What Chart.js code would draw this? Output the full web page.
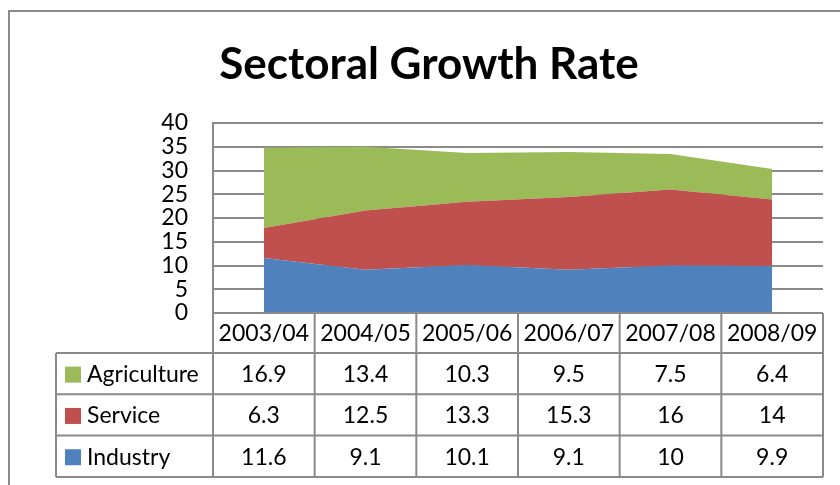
<!DOCTYPE html>
<html>
<head>
<meta charset="utf-8">
<title>Sectoral Growth Rate</title>
<script src="https://cdn.jsdelivr.net/npm/chart.js@4"></script>
<style>
  html, body { margin: 0; padding: 0; background: #fff; }
  #wrap { width: 840px; height: 485px; }
</style>
</head>
<body>
<div id="wrap"><canvas id="growthChart" width="840" height="485"></canvas></div>
<script>
// ===== data =====
const years = ["2003/04", "2004/05", "2005/06", "2006/07", "2007/08", "2008/09"];
const agriculture = [16.9, 13.4, 10.3, 9.5, 7.5, 6.4];
const service = [6.3, 12.5, 13.3, 15.3, 16, 14];
const industry = [11.6, 9.1, 10.1, 9.1, 10, 9.9];
const yTicks = [0, 5, 10, 15, 20, 25, 30, 35, 40];
const titleText = "Sectoral Growth Rate";

const GREEN = "#9bbb59";
const RED = "#c0504d";
const BLUE = "#4f81bd";
const GRID = "#8a8a8a";
const FONT = "Lato, 'Open Sans', sans-serif";

// table rows, top to bottom as in the picture
const tableRows = [
  { name: "Agriculture", color: GREEN, values: agriculture },
  { name: "Service", color: RED, values: service },
  { name: "Industry", color: BLUE, values: industry },
];

// ---- outer frame + title ----
const framePlugin = {
  id: "frame",
  beforeDraw(chart) {
    const c = chart.ctx;
    c.save();
    c.strokeStyle = "#8c8c8c";
    c.lineWidth = 2;
    c.beginPath();
    c.moveTo(9, 490);
    c.lineTo(9, 11);
    c.lineTo(845, 11);
    c.stroke();
    c.fillStyle = "#000";
    c.font = "bold 44px " + FONT;
    c.textAlign = "center";
    c.textBaseline = "alphabetic";
    c.fillText(titleText, 429, 79);
    c.restore();
  }
};

// ---- data table under the plot ----
const tablePlugin = {
  id: "dataTable",
  afterDraw(chart) {
    const c = chart.ctx;
    const x = chart.scales.x;
    const area = chart.chartArea;
    const colW = (area.right - area.left) / years.length;
    const top = area.bottom;
    const headH = 40;
    const rowH = 41.3;
    const legendLeft = 56;
    const bottom = top + headH + rowH * tableRows.length;

    c.save();
    c.strokeStyle = GRID;
    c.lineWidth = 2;
    c.beginPath();
    // horizontal lines
    c.moveTo(area.left, top); c.lineTo(area.right, top);
    for (let r = 0; r <= tableRows.length; r++) {
      const y = top + headH + r * rowH;
      c.moveTo(legendLeft, y); c.lineTo(area.right, y);
    }
    // vertical lines
    for (let i = 0; i <= years.length; i++) {
      const vx = area.left + i * colW;
      c.moveTo(vx, top); c.lineTo(vx, bottom);
    }
    c.moveTo(legendLeft, top + headH); c.lineTo(legendLeft, bottom);
    c.stroke();

    c.fillStyle = "#000";
    c.font = "23px " + FONT;
    c.textBaseline = "middle";
    c.textAlign = "center";
    years.forEach((yr, i) => {
      c.fillText(yr, x.getPixelForValue(i), top + headH / 2 + 1);
    });
    tableRows.forEach((row, r) => {
      const cy = top + headH + r * rowH + rowH / 2 + 1;
      row.values.forEach((v, i) => {
        c.fillText(String(v), x.getPixelForValue(i), cy);
      });
      c.fillStyle = row.color;
      c.fillRect(65, cy - 8, 16, 16);
      c.fillStyle = "#000";
      c.textAlign = "left";
      c.fillText(row.name, 87, cy);
      c.textAlign = "center";
    });
    c.restore();
  }
};

Chart.defaults.font.family = FONT;
Chart.defaults.color = "#000";

const ctx = document.getElementById("growthChart");
const chart = new Chart(ctx, {
  type: "line",
  data: {
    labels: years,
    datasets: [
      { label: "Industry", data: industry, backgroundColor: BLUE, fill: "origin" },
      { label: "Service", data: service, backgroundColor: RED, fill: "-1" },
      { label: "Agriculture", data: agriculture, backgroundColor: GREEN, fill: "-1" },
    ],
  },
  options: {
    responsive: false,
    animation: false,
    layout: { padding: { left: 0, right: 17, top: 123, bottom: 172 } },
    elements: {
      point: { radius: 0, hoverRadius: 0 },
      line: { borderWidth: 0, tension: 0 }
    },
    scales: {
      x: { display: false, offset: true },
      y: {
        stacked: true,
        min: 0,
        max: 40,
        afterFit(scale) { scale.width = 213; },
        afterBuildTicks(scale) { scale.ticks = yTicks.map(v => ({ value: v })); },
        ticks: { padding: 25, autoSkip: false, font: { size: 23 }, color: "#000" },
        grid: { color: GRID, lineWidth: 2, drawTicks: false },
        border: { color: GRID, width: 2 }
      }
    },
    plugins: {
      legend: { display: false },
      tooltip: { enabled: false },
      title: { display: false }
    }
  },
  plugins: [framePlugin, tablePlugin]
});
</script>
</body>
</html>
